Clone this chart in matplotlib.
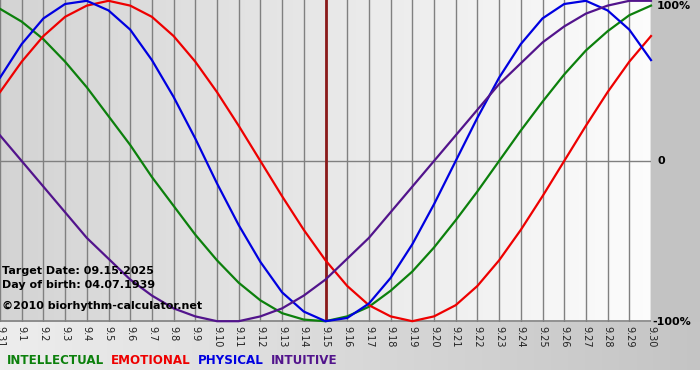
import matplotlib
matplotlib.use("Agg")
import matplotlib.pyplot as plt
import numpy as np

# day labels along the bottom (first one is shown as 9.31 on the original)
days = ["9.31"] + ["9.%d" % d for d in range(1, 31)]

# biorhythm values per day (-1 .. 1)
physical = [0.52, 0.73, 0.89, 0.98, 1.00, 0.94, 0.82, 0.63, 0.40, 0.14,
            -0.14, -0.40, -0.63, -0.82, -0.94, -1.00, -0.98, -0.89, -0.73, -0.52,
            -0.27, 0.00, 0.27, 0.52, 0.73, 0.89, 0.98, 1.00, 0.94, 0.82, 0.63]
emotional = [0.43, 0.62, 0.78, 0.90, 0.97, 1.00, 0.97, 0.90, 0.78, 0.62,
             0.43, 0.22, 0.00, -0.22, -0.43, -0.62, -0.78, -0.90, -0.97, -1.00,
             -0.97, -0.90, -0.78, -0.62, -0.43, -0.22, 0.00, 0.22, 0.43, 0.62, 0.78]
intellectual = [0.95, 0.87, 0.76, 0.62, 0.46, 0.28, 0.10, -0.10, -0.28, -0.46,
                -0.62, -0.76, -0.87, -0.95, -0.99, -1.00, -0.97, -0.91, -0.81, -0.69,
                -0.54, -0.37, -0.19, 0.00, 0.19, 0.37, 0.54, 0.69, 0.81, 0.91, 0.97]
intuitive = [0.16, 0.00, -0.16, -0.32, -0.48, -0.61, -0.74, -0.84, -0.92, -0.97,
             -1.00, -1.00, -0.97, -0.92, -0.84, -0.74, -0.61, -0.48, -0.32, -0.16,
             0.00, 0.16, 0.32, 0.48, 0.61, 0.74, 0.84, 0.92, 0.97, 1.00, 1.00]
target_idx = 15

GREEN, RED, BLUE, PURPLE = "#0c800c", "#ee0000", "#0000e0", "#52148c"

W, H = 700, 380
fig = plt.figure(figsize=(7, 3.8), dpi=100)

# background gradient for whole image
bg = fig.add_axes([0, 0, 1, 1])
grad = np.linspace(0, 1, 256)
cols = np.array([[0.93, 0.93, 0.93]]) * (1 - grad[:, None]) + np.array([[0.77, 0.77, 0.77]]) * grad[:, None]
bg.imshow(cols[None, :, :], aspect="auto", extent=[0, 1, 0, 1])
bg.add_patch(plt.Rectangle((0, 0), 1, 10 / H, color="white", lw=0))
bg.add_patch(plt.Rectangle((651 / W, 58 / H), 1, 1, color="#c3c3c3", lw=0))
bg.set_xlim(0, 1)
bg.set_ylim(0, 1)
bg.axis("off")

ax = fig.add_axes([0, 58 / H, 651 / W, 322 / H])
x = np.arange(len(days))
pg = np.array([[0.83, 0.83, 0.83]]) * (1 - grad[:, None]) + np.array([[0.99, 0.99, 0.99]]) * grad[:, None]
ax.imshow(pg[None, :, :], aspect="auto", extent=[0, 30, -1.005, 1.005], zorder=0)
ax.set_xlim(0, 30)
ax.set_ylim(-1.005, 1.005)

for xi in x:
    ax.axvline(xi, color="#808080", lw=1, zorder=1)
ax.axhline(0, color="#808080", lw=1, zorder=1)
ax.axhline(-1.0, color="#808080", lw=1.2, zorder=1)
ax.axvline(target_idx, color="#8b1a1a", lw=2, zorder=2)

ax.plot(x, intellectual, color=GREEN, lw=1.6, zorder=3, clip_on=False)
ax.plot(x, emotional, color=RED, lw=1.6, zorder=3, clip_on=False)
ax.plot(x, physical, color=BLUE, lw=1.6, zorder=3, clip_on=False)
ax.plot(x, intuitive, color=PURPLE, lw=1.6, zorder=3, clip_on=False)

for s in ax.spines.values():
    s.set_visible(False)
ax.set_xticks(x)
ax.set_xticklabels(days, rotation=270, fontsize=7, color="#222222")
ax.tick_params(axis="x", length=0, pad=3)
ax.set_yticks([])

fig.text(2 / W, 1 - 271 / H, "Target Date: 09.15.2025", fontsize=8, fontweight="bold", va="center")
fig.text(2 / W, 1 - 285 / H, "Day of birth: 04.07.1939", fontsize=8, fontweight="bold", va="center")
fig.text(2 / W, 1 - 306 / H, "\u00a92010 biorhythm-calculator.net", fontsize=8, fontweight="bold", va="center")

fig.text(657 / W, 1 - 6 / H, "100%", fontsize=8, fontweight="bold", va="center")
fig.text(657 / W, 1 - 161 / H, "0", fontsize=8, fontweight="bold", va="center")
fig.text(652 / W, 1 - 322 / H, "-100%", fontsize=8, fontweight="bold", va="center")

lx = 7 / W
for name, c in [("INTELLECTUAL", GREEN), ("EMOTIONAL", RED),
                ("PHYSICAL", BLUE), ("INTUITIVE", PURPLE)]:
    t = fig.text(lx, 1 - 361 / H, name, fontsize=8.6, fontweight="bold", color=c, va="center")
    fig.canvas.draw()
    bb = t.get_window_extent()
    lx = (bb.x1 + 7) / W

fig.savefig("out.png", dpi=100)
